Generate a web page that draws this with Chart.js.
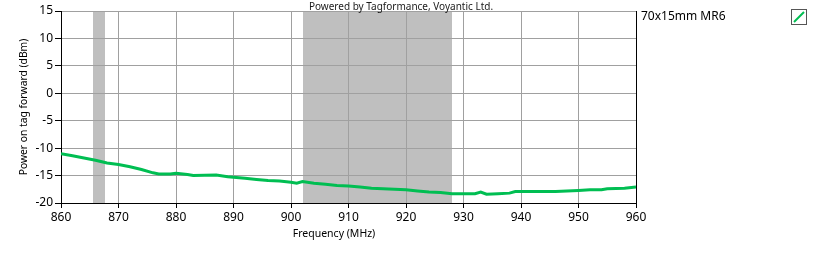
<!DOCTYPE html>
<html>
<head>
<meta charset="utf-8">
<script src="https://cdn.jsdelivr.net/npm/chart.js@4/dist/chart.umd.min.js"></script>
<style>
  html, body { margin: 0; padding: 0; background: #ffffff; }
  #wrap { position: relative; width: 821px; height: 256px; }
</style>
</head>
<body>
<div id="wrap"><canvas id="c" width="821" height="256"></canvas></div>
<script>
// ---- Data ----
const seriesName = "70x15mm MR6";
const frequencies = [860, 862, 864, 866, 868, 870, 872, 874, 876, 877, 879, 880, 882, 883, 887, 889, 890, 892, 894, 896, 898, 900, 901, 902, 904, 906, 908, 910, 912, 914, 916, 918, 920, 922, 924, 926, 928, 930, 932, 933, 934, 936, 938, 939, 942, 946, 948, 950, 952, 954, 955, 958, 960];
const powerForward = [-11.0, -11.4, -11.8, -12.2, -12.7, -13.0, -13.4, -13.9, -14.5, -14.7, -14.7, -14.6, -14.8, -15.0, -14.9, -15.2, -15.3, -15.5, -15.7, -15.9, -16.0, -16.2, -16.4, -16.1, -16.4, -16.6, -16.8, -16.9, -17.1, -17.3, -17.4, -17.5, -17.6, -17.8, -18.0, -18.1, -18.3, -18.3, -18.3, -18.0, -18.4, -18.3, -18.2, -17.9, -17.9, -17.9, -17.8, -17.7, -17.6, -17.6, -17.4, -17.3, -17.1];
const bandStarts = [865.6, 902.0];
const bandEnds = [867.6, 928.0];
const xTitle = "Frequency (MHz)";
const yTitle = "Power on tag forward (dBm)";
const watermark = "Powered by Tagformance, Voyantic Ltd.";

const FONT = "'Noto Sans', 'DejaVu Sans', sans-serif";
const GREEN = "rgb(0,190,82)";

const points = frequencies.map((f, i) => ({ x: f, y: powerForward[i] }));

const bandsPlugin = {
  id: 'bands',
  beforeDraw(chart) {
    const { ctx, chartArea, scales } = chart;
    ctx.save();
    ctx.fillStyle = '#bfbfbf';
    for (let i = 0; i < bandStarts.length; i++) {
      const x1 = Math.round(scales.x.getPixelForValue(bandStarts[i]));
      const x2 = Math.round(scales.x.getPixelForValue(bandEnds[i]));
      ctx.fillRect(x1, chartArea.top, x2 - x1, chartArea.bottom - chartArea.top);
    }
    ctx.restore();
  }
};

const decorPlugin = {
  id: 'decor',
  afterDraw(chart) {
    const { ctx, chartArea } = chart;
    ctx.save();
    // right frame line
    ctx.strokeStyle = '#000';
    ctx.lineWidth = 1;
    ctx.beginPath();
    ctx.moveTo(Math.round(chartArea.right) + 0.5, chartArea.top);
    ctx.lineTo(Math.round(chartArea.right) + 0.5, chartArea.bottom);
    ctx.stroke();
    // watermark
    ctx.fillStyle = '#1a1a1a';
    ctx.font = "10px " + FONT;
    ctx.textAlign = 'center';
    ctx.textBaseline = 'middle';
    ctx.fillText(watermark, 401, 7);
    // x title
    ctx.font = "10.5px " + FONT;
    ctx.fillStyle = '#000';
    ctx.fillText(xTitle, 334, 234);
    // legend
    ctx.textAlign = 'left';
    ctx.font = "12px " + FONT;
    ctx.fillText(seriesName, 641, 17);
    ctx.strokeStyle = '#555';
    ctx.lineWidth = 1;
    ctx.strokeRect(791.5, 9.5, 15, 15);
    ctx.strokeStyle = GREEN;
    ctx.lineWidth = 2;
    ctx.beginPath();
    ctx.moveTo(794, 22);
    ctx.lineTo(804, 12);
    ctx.stroke();
    ctx.restore();
  }
};

new Chart(document.getElementById('c'), {
  type: 'line',
  data: {
    datasets: [{
      label: seriesName,
      data: points,
      borderColor: GREEN,
      borderWidth: 3,
      pointRadius: 0,
      tension: 0,
      fill: false
    }]
  },
  options: {
    responsive: false,
    animation: false,
    devicePixelRatio: 1,
    layout: { padding: { top: 11, right: 185, left: 0, bottom: 0 } },
    plugins: { legend: { display: false }, tooltip: { enabled: false } },
    scales: {
      x: {
        type: 'linear',
        min: 860, max: 960,
        afterFit(scale) { scale.height = 53; },
        ticks: { stepSize: 10, color: '#000', font: { family: FONT, size: 12 }, padding: 2, maxRotation: 0 },
        grid: { color: '#a0a0a0', tickColor: '#000', tickLength: 5, drawTicks: true },
        border: { color: '#000', width: 1 }
      },
      y: {
        min: -20, max: 15,
        afterFit(scale) { scale.width = 61; },
        ticks: { stepSize: 5, color: '#000', font: { family: FONT, size: 12 }, padding: 2 },
        grid: { color: '#a0a0a0', tickColor: '#000', tickLength: 6, drawTicks: true },
        border: { color: '#000', width: 1 },
        title: { display: true, text: yTitle, color: '#000', font: { family: FONT, size: 10.3 }, padding: { top: 18, bottom: 0 } }
      }
    }
  },
  plugins: [bandsPlugin, decorPlugin]
});
</script>
</body>
</html>
